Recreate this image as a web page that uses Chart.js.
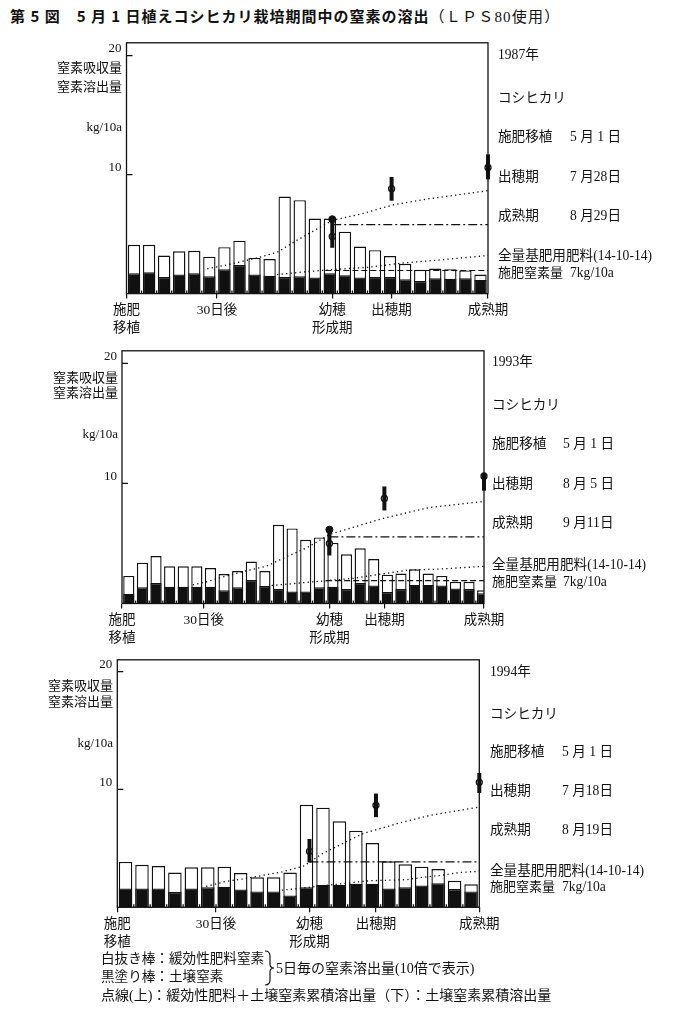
<!DOCTYPE html>
<html lang="ja">
<head>
<meta charset="utf-8">
<title>第5図 窒素の溶出</title>
<script src="https://cdn.jsdelivr.net/npm/chart.js@4.4.1/dist/chart.umd.min.js"></script>
<style>
  html, body { margin: 0; padding: 0; background: #fff; }
  body { position: relative; width: 676px; height: 1015px; overflow: hidden;
         font-family: "Liberation Serif", "Noto Sans CJK JP", serif; color: #111; }
  canvas { position: absolute; left: 0; }
  .t { position: absolute; white-space: nowrap; font-size: 13px; line-height: 14px; }
  .s { font-size: 13.6px; }
  .l { font-size: 13.6px; }
  .m { font-size: 14px; }
  #title { position: absolute; left: 10px; top: 7px; font-size: 15px; line-height: 18px; white-space: nowrap; }
  #title b { font-family: "Noto Sans CJK JP", sans-serif; font-weight: bold; letter-spacing: 1px; }
  #title span { letter-spacing: 1.2px; }
</style>
</head>
<body>
<div id="title"><b>第 5 図　5 月 1 日植えコシヒカリ栽培期間中の窒素の溶出</b><span>（ＬＰＳ80使用）</span></div>
<canvas id="c1987"></canvas>
<canvas id="c1993"></canvas>
<canvas id="c1994"></canvas>
<svg style="position:absolute;left:263px;top:950px" width="14" height="36">
  <path d="M2 1 Q7 1 7 6 L7 14 Q7 18 11 18 Q7 18 7 22 L7 30 Q7 35 2 35" fill="none" stroke="#111" stroke-width="1.2"/>
</svg>
<script>
// 5日毎の溶出量（10倍で表示）：棒の上端＝緩効性肥料＋土壌，黒塗り＝土壌窒素
var total1987 = [4.1, 4.1, 3.2, 3.55, 3.6, 3.1, 3.9, 4.45, 3.0, 2.9, 8.15, 7.85, 6.3, 6.3, 5.2, 3.95, 3.65, 3.15, 2.5, 2.0, 2.1, 2.05, 1.95, 1.6];
var soil1987 = [1.7, 1.8, 1.4, 1.6, 1.7, 1.45, 2.05, 2.4, 1.6, 1.5, 1.4, 1.45, 1.35, 1.7, 1.55, 1.35, 1.4, 1.4, 1.2, 1.05, 1.3, 1.25, 1.3, 1.15];
var total1993 = [2.3, 3.4, 3.95, 3.1, 3.1, 3.1, 2.95, 2.45, 2.7, 3.5, 2.7, 6.55, 6.25, 5.3, 5.5, 5.05, 4.1, 4.6, 3.7, 2.4, 2.5, 2.85, 2.5, 2.3, 1.8, 1.8, 1.1];
var soil1993 = [0.8, 1.35, 1.7, 1.4, 1.4, 1.4, 1.4, 1.1, 1.35, 1.95, 1.45, 1.2, 1.0, 1.0, 1.35, 1.4, 1.2, 1.7, 1.5, 0.95, 1.2, 1.55, 1.55, 1.5, 1.25, 1.2, 0.85];
var total1994 = [3.85, 3.6, 3.5, 2.95, 3.4, 3.4, 3.45, 2.9, 2.55, 2.55, 2.95, 8.7, 8.45, 7.3, 6.5, 5.45, 3.9, 3.65, 3.45, 3.25, 2.25, 1.95];
var soil1994 = [1.6, 1.6, 1.6, 1.3, 1.6, 1.7, 1.75, 1.5, 1.35, 1.35, 1.0, 1.7, 1.9, 1.9, 2.0, 2.0, 1.6, 1.7, 1.85, 2.05, 1.55, 1.35];

// 累積溶出量 [移植後日数, kg/10a]　上：緩効性肥料＋土壌　下：土壌
var cumAll1987 = [[26.8, 2.08], [32.4, 2.36], [43.4, 3.0], [50, 3.47], [56.7, 4.5], [62.2, 5.28], [68.3, 6.15], [78.8, 6.75], [88.5, 7.45], [100, 7.95], [120, 8.65]];
var cumSoil1987 = [[50, 1.6], [60, 1.85], [70, 2.05], [80, 2.2], [91, 2.55], [105, 2.85], [120, 3.2]];
var cumAll1993 = [[26, 1.55], [31, 1.8], [36, 2.15], [46, 2.75], [53, 3.1], [60.5, 3.9], [68, 4.65], [76.2, 5.75], [96, 7.1], [113, 8.0], [133, 8.5]];
var cumSoil1993 = [[55, 1.5], [70, 1.8], [85, 2.1], [105, 2.78], [116, 2.86], [133, 3.1]];
var cumAll1994 = [[27, 1.77], [33, 2.2], [38, 2.4], [42, 2.6], [50, 3.0], [56.6, 3.5], [62.6, 4.6], [69.7, 5.58], [74.8, 6.27], [85, 7.1], [95, 7.8], [110, 8.5]];
var cumSoil1994 = [[50, 1.45], [76.8, 2.26], [83, 2.3], [88, 2.35], [93, 2.55], [98, 2.7], [104, 2.95], [110, 3.06]];

// 一点鎖線 [開始日, 終了日, 値]
var refHigh1987 = [68.3, 120, 5.8];
var refLow1987 = [66, 120, 1.94];
var refHigh1993 = [76.2, 133, 5.55];
var refLow1993 = [75, 133, 1.9];
var refHigh1994 = [58.4, 110, 3.86];
var refLow1994 = null;

// 窒素吸収量 [日, 下端, 上端, 白丸]
var uptake1987 = [[68.3, 3.85, 6.2, 4.8], [88, 7.8, 9.8, 8.8], [120, 9.6, 11.7, 10.6]];
var uptake1993 = [[76.2, 4.0, 6.05, 5.0], [96.4, 7.75, 9.75, 8.75], [133, 9.4, 10.9, 10.6]];
var uptake1994 = [[58.4, 3.8, 5.8, 4.75], [78.6, 7.65, 9.65, 8.65], [110, 9.7, 11.4, 10.6]];
var dot1987 = [68.3, 6.25];
var dot1993 = [76.2, 6.15];
var dot1994 = null;

// x軸の生育ステージ
var stageLabels = [['施肥', '移植'], '30日後', ['幼穂', '形成期'], '出穂期', '成熟期'];
var stageDays1987 = [0, 30, 68.3, 88, 120];
var stageDays1993 = [0, 30, 76.2, 96.4, 133];
var stageDays1994 = [0, 30, 58.4, 78.6, 110];
var yTicks = [10, 20];

var FONT = '"Liberation Serif", "Noto Sans CJK JP", serif';

var framePlugin = {
    id: 'frame',
    afterDraw: function (chart) {
        var ctx = chart.ctx, a = chart.chartArea;
        var xs = chart.scales.x, ys = chart.scales.y;
        ctx.save();
        ctx.strokeStyle = '#111';
        ctx.lineWidth = 1.3;
        ctx.strokeRect(a.left, a.top, a.right - a.left, a.bottom - a.top);
        ctx.beginPath();
        yTicks.forEach(function (v) {
            var py = ys.getPixelForValue(v);
            ctx.moveTo(a.left, py);
            ctx.lineTo(a.left + 6, py);
        });
        for (var d = 5; d < xs.max; d += 5) {
            var px = xs.getPixelForValue(d);
            ctx.moveTo(px, a.bottom);
            ctx.lineTo(px, a.bottom - 3);
        }
        ctx.stroke();
        ctx.restore();
    }
};

function pts(arr) {
    return arr.map(function (p) { return {x: p[0], y: p[1]}; });
}

function buildPanel(id, p) {
    var canvas = document.getElementById(id);
    var top = p.frameTop - 7;
    var height = Math.round(p.zero - p.frameTop + 57);
    canvas.style.top = top + 'px';
    canvas.width = 676;
    canvas.height = height;

    var datasets = [];
    p.uptake.forEach(function (u) {
        datasets.push({type: 'line', data: [{x: u[0], y: u[1]}, {x: u[0], y: u[2]}],
            borderColor: '#111', borderWidth: 4, pointRadius: 0, clip: false});
        datasets.push({type: 'line', data: [{x: u[0], y: u[3]}], showLine: false,
            pointRadius: 3, pointBackgroundColor: '#fff', pointBorderColor: '#111',
            pointBorderWidth: 1.3, clip: false});
    });
    if (p.dot) {
        datasets.push({type: 'line', data: [{x: p.dot[0], y: p.dot[1]}], showLine: false,
            pointRadius: 3.5, pointBackgroundColor: '#111', pointBorderColor: '#111', clip: false});
    }
    datasets.push({type: 'line', data: pts(p.cumAll), borderColor: '#111', borderWidth: 1.3,
        borderDash: [1.3, 3.2], pointRadius: 0, tension: 0});
    datasets.push({type: 'line', data: pts(p.cumSoil), borderColor: '#111', borderWidth: 1.3,
        borderDash: [1.3, 3.2], pointRadius: 0, tension: 0});
    datasets.push({type: 'line', data: [{x: p.refHigh[0], y: p.refHigh[2]}, {x: p.refHigh[1], y: p.refHigh[2]}],
        borderColor: '#111', borderWidth: 1.2, borderDash: [9, 3, 2, 3], pointRadius: 0});
    if (p.refLow) {
        datasets.push({type: 'line', data: [{x: p.refLow[0], y: p.refLow[2]}, {x: p.refLow[1], y: p.refLow[2]}],
            borderColor: '#111', borderWidth: 1.2, borderDash: [6, 3], pointRadius: 0});
    }
    datasets.push({type: 'bar', data: p.soil.map(function (v, i) { return {x: i * 5 + 2.5, y: v}; }),
        backgroundColor: '#111', borderColor: '#111', borderWidth: 1.2,
        grouped: false, barPercentage: 0.82, categoryPercentage: 1, clip: 0});
    datasets.push({type: 'bar', data: p.total.map(function (v, i) { return {x: i * 5 + 2.5, y: v}; }),
        backgroundColor: '#fff', borderColor: '#111', borderWidth: 1.4,
        grouped: false, barPercentage: 0.82, categoryPercentage: 1, clip: 0});

    return new Chart(canvas, {
        type: 'bar',
        data: {datasets: datasets},
        options: {
            responsive: false,
            animation: false,
            events: [],
            layout: {padding: {top: 7, left: p.left - 40, right: 676 - p.right,
                bottom: height - (p.zero - top) - 47}},
            plugins: {legend: {display: false}, tooltip: {enabled: false}},
            scales: {
                x: {
                    type: 'linear', min: 0, max: p.end, offset: false,
                    grid: {display: true, offset: false, drawOnChartArea: false, drawTicks: true,
                        tickLength: 5, color: '#111', lineWidth: 1.2},
                    border: {display: false},
                    afterFit: function (s) { s.height = 47; },
                    afterBuildTicks: function (s) {
                        s.ticks = p.stageDays.map(function (d) { return {value: d}; });
                    },
                    ticks: {
                        autoSkip: false, maxRotation: 0, padding: 3, color: '#111',
                        font: {family: FONT, size: 13.5, lineHeight: 1.32},
                        callback: function (v, i) { return stageLabels[i]; }
                    }
                },
                y: {
                    type: 'linear', min: 0, max: p.ymax,
                    grid: {display: false, drawTicks: false},
                    border: {display: false},
                    afterFit: function (s) { s.width = 40; },
                    afterBuildTicks: function (s) {
                        s.ticks = yTicks.map(function (v) { return {value: v}; });
                    },
                    ticks: {
                        padding: 5, labelOffset: -7, color: '#111',
                        font: {family: FONT, size: 13},
                        callback: function (v) { return String(v); }
                    }
                }
            }
        },
        plugins: [framePlugin]
    });
}

buildPanel('c1987', {left: 126.5, right: 488, frameTop: 36.7, zero: 293.3, ymax: 21.07, end: 120,
    total: total1987, soil: soil1987, cumAll: cumAll1987, cumSoil: cumSoil1987,
    refHigh: refHigh1987, refLow: refLow1987, uptake: uptake1987, dot: dot1987, stageDays: stageDays1987});
buildPanel('c1993', {left: 122, right: 484, frameTop: 345, zero: 603.5, ymax: 21.05, end: 133,
    total: total1993, soil: soil1993, cumAll: cumAll1993, cumSoil: cumSoil1993,
    refHigh: refHigh1993, refLow: refLow1993, uptake: uptake1993, dot: dot1993, stageDays: stageDays1993});
buildPanel('c1994', {left: 117.3, right: 479.3, frameTop: 654, zero: 907.3, ymax: 21.0, end: 110,
    total: total1994, soil: soil1994, cumAll: cumAll1994, cumSoil: cumSoil1994,
    refHigh: refHigh1994, refLow: refLow1994, uptake: uptake1994, dot: dot1994, stageDays: stageDays1994});

// 文字（中心のy座標で配置）
function txt(s, x, yc, right, cls) {
    var d = document.createElement('div');
    d.className = 't' + (cls ? ' ' + cls : '');
    d.textContent = s;
    d.style.top = (yc - 7) + 'px';
    if (right) { d.style.right = (676 - x) + 'px'; } else { d.style.left = x + 'px'; }
    document.body.appendChild(d);
}

function sideText(x, xd, ys, year, heading, maturity) {
    txt(year, x, ys[0], false, 's');
    txt('コシヒカリ', x, ys[1], false, 's');
    txt('施肥移植', x, ys[2], false, 's'); txt('5 月 1 日', xd, ys[2], false, 's');
    txt('出穂期', x, ys[3], false, 's'); txt(heading, xd, ys[3], false, 's');
    txt('成熟期', x, ys[4], false, 's'); txt(maturity, xd, ys[4], false, 's');
    txt('全量基肥用肥料(14-10-14)', x, ys[5], false, 's');
    txt('施肥窒素量', x, ys[6]); txt('7kg/10a', xd, ys[6], false, 's');
}
sideText(498, 570, [55, 98, 137, 177, 216, 256, 273], '1987年', '7 月28日', '8 月29日');
sideText(492, 563, [362, 405, 444, 484, 523, 565, 582], '1993年', '8 月 5 日', '9 月11日');
sideText(490, 562, [672, 714, 752, 791, 830, 871, 887], '1994年', '7 月18日', '8 月19日');

function yTitle(xr, ys) {
    txt('窒素吸収量', xr, ys[0], true);
    txt('窒素溶出量', xr, ys[1], true);
    txt('kg/10a', xr, ys[2], true);
}
yTitle(122, [68, 87, 127]);
yTitle(118, [378, 393, 434]);
yTitle(113, [686, 702, 743]);

txt('白抜き棒：緩効性肥料窒素', 101, 959, false, 'l');
txt('黒塗り棒：土壌窒素', 101, 977, false, 'l');
txt('5日毎の窒素溶出量(10倍で表示)', 276, 969, false, 'm');
txt('点線(上)：緩効性肥料＋土壌窒素累積溶出量（下）：土壌窒素累積溶出量', 101, 996, false, 'm');
</script>
</body>
</html>
